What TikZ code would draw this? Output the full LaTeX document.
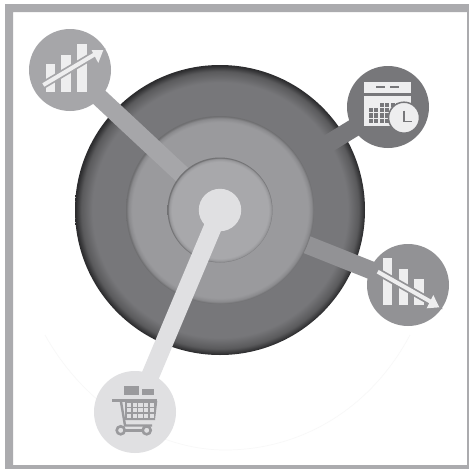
\documentclass[tikz,border=0pt]{standalone}
\pgfdeclarelayer{bk}\pgfdeclarelayer{la}\pgfdeclarelayer{lb}\pgfdeclarelayer{lc}\pgfdeclarelayer{ld}\pgfdeclarelayer{le}\pgfdeclarelayer{lf}
\pgfsetlayers{bk,la,lb,lc,ld,le,lf,main}
\definecolor{frameC}{HTML}{ABABAE}
\definecolor{outerC}{HTML}{77777A}
\definecolor{outerM}{HTML}{5A5A5C}
\definecolor{outerD}{HTML}{2C2C2E}
\definecolor{midC}{HTML}{9A9A9D}
\definecolor{midM}{HTML}{8A8A8D}
\definecolor{midD}{HTML}{6E6E70}
\definecolor{inC}{HTML}{A8A8AB}
\definecolor{inM}{HTML}{98989B}
\definecolor{inD}{HTML}{707072}
\definecolor{hubC}{HTML}{E0E0E2}
\definecolor{tlC}{HTML}{A6A6A9}
\definecolor{calC}{HTML}{77777A}
\definecolor{drC}{HTML}{929295}
\definecolor{iconL}{HTML}{EEEEEF}
\definecolor{faintC}{HTML}{F8F8F8}
\pgfdeclareradialshading{outerS}{\pgfpoint{0bp}{0bp}}{color(0bp)=(outerC);color(22bp)=(outerC);color(23.9bp)=(outerM);color(24.9bp)=(outerD);color(25bp)=(outerD);color(50bp)=(outerD)}
\pgfdeclareradialshading{midS}{\pgfpoint{0bp}{0bp}}{color(0bp)=(midC);color(23.4bp)=(midC);color(24.4bp)=(midM);color(24.95bp)=(midD);color(25bp)=(midD);color(50bp)=(midD)}
\pgfdeclareradialshading{inS}{\pgfpoint{0bp}{0bp}}{color(0bp)=(inC);color(23bp)=(inC);color(24.3bp)=(inM);color(24.9bp)=(inD);color(25bp)=(inD);color(50bp)=(inD)}
\tikzset{
  disc/.style={circle,inner sep=0pt,outer sep=0pt,minimum size=#1},
  sat/.style={disc=82pt,fill=#1},
  link/.style={line width=18pt,color=#1},
  bar/.style={fill=iconL},
  cartdark/.style={fill=midC},
}
\begin{document}
\begin{tikzpicture}[x=1pt,y=-1pt]
\useasboundingbox (0,0) rectangle (469,469);
\begin{pgfonlayer}{bk}
\fill[white] (0,0) rectangle (469,469);
\fill[frameC,even odd rule] (5,4) rectangle (469,469) (13,12) rectangle (467,465);
\draw[faintC,line width=0.7pt] (45,335) .. controls (90,415) and (165,450) .. (225,450) .. controls (300,450) and (370,410) .. (410,335);
\end{pgfonlayer}
% nodes
\node[disc=42.4pt,fill=hubC] (hub) at (220,210) {};
\node[sat=tlC] (up) at (70,70) {};
\node[sat=calC] (cal) at (388,107) {};
\node[sat=drC] (down) at (408,285) {};
\node[sat=hubC] (cart) at (135,412) {};
% rings and connectors by layer
\begin{pgfonlayer}{la}
  \node[disc=290pt,shading=outerS] (outer) at (hub.center) {};
\end{pgfonlayer}
\begin{pgfonlayer}{lb}
  \draw[link=calC] (hub.center) -- (cal.center);
  \draw[link=drC] (hub.center) -- (down.center);
\end{pgfonlayer}
\begin{pgfonlayer}{lc}
  \node[disc=188pt,shading=midS] (mid) at (hub.center) {};
\end{pgfonlayer}
\begin{pgfonlayer}{ld}
  \draw[link=tlC] (hub.center) -- (up.center);
\end{pgfonlayer}
\begin{pgfonlayer}{le}
  \node[disc=105pt,shading=inS] (inner) at (hub.center) {};
\end{pgfonlayer}
\begin{pgfonlayer}{lf}
  \draw[link=hubC] (hub.center) -- (cart.center);
\end{pgfonlayer}
% rising chart icon
\fill[bar] (46,64.3) rectangle (55,91.7);
\fill[bar] (61.3,55) rectangle (71,91.7);
\fill[bar] (77,44.3) rectangle (86.7,91.7);
\draw[tlC,line width=7.5pt] (43.3,85) -- (97,53);
\fill[tlC] (88.5,48) -- (105.5,48.5) -- (99,66) -- cycle;
\draw[iconL,line width=4pt] (43.3,85) -- (97,53);
\fill[iconL] (91.5,50) -- (103.3,50) -- (98.3,63) -- cycle;
% calendar icon
\fill[bar] (364.3,81.7) rectangle (411,92.7);
\fill[calC] (375.7,85.7) rectangle (385,87.7);
\fill[calC] (390,85.7) rectangle (399,87.7);
\fill[bar] (364.3,96) rectangle (411,126);
\foreach \cx in {379.6,385.1,390.6,396.1,401.6}{\fill[calC] (\cx,102.5) rectangle ++(4.2,4.2);}
\foreach \ry in {107.9,113.4,118.9}{
  \foreach \cx in {368.6,374.1,379.6,385.1,390.6,396.1,401.6}{\fill[calC] (\cx,\ry) rectangle ++(4.2,4.2);}
}
\node[disc=31pt,fill=iconL,draw=calC,line width=1.5pt] (clock) at (404,117.7) {};
\draw[calC,line width=1.2pt] (404,110.7) -- (404,121.7) -- (412.3,121.7);
% falling chart icon
\fill[bar] (383.3,258.3) rectangle (392.3,305);
\fill[bar] (399,269.3) rectangle (408.3,305);
\fill[bar] (414.3,279) rectangle (424,305);
\draw[drC,line width=7.5pt] (377.7,271.7) -- (433,303);
\fill[drC] (431,291) -- (442.5,309) -- (423,311) -- cycle;
\draw[iconL,line width=4pt] (377.7,271.7) -- (433,303);
\fill[iconL] (433.3,295) -- (439.3,307.3) -- (426.7,308.3) -- cycle;
% cart icon
\fill[cartdark] (124,386) rectangle (139.3,395);
\fill[cartdark] (142.3,389.3) rectangle (154,395);
\fill[cartdark] (111.7,399) rectangle (157.3,401.7);
\fill[cartdark] (125,401) -- (157.3,401) -- (155,420) -- (125,420) -- cycle;
\draw[midC,line width=2.4pt] (120.7,400) -- (125,425.5) -- (152,425.5);
\foreach \cx in {126.9,132.6,138.4,144.1,149.8}{
  \foreach \ry in {402.7,408.3,414}{\fill[hubC] (\cx,\ry) rectangle ++(4.2,4.1);}
}
\draw[midC,line width=3.4pt] (120.7,430.3) -- (146.7,430.3);
\node[disc=8pt,fill=hubC,draw=midC,line width=2.6pt] (wheelA) at (120.7,430.3) {};
\node[disc=8pt,fill=hubC,draw=midC,line width=2.6pt] (wheelB) at (146.7,430.3) {};
\end{tikzpicture}
\end{document}
